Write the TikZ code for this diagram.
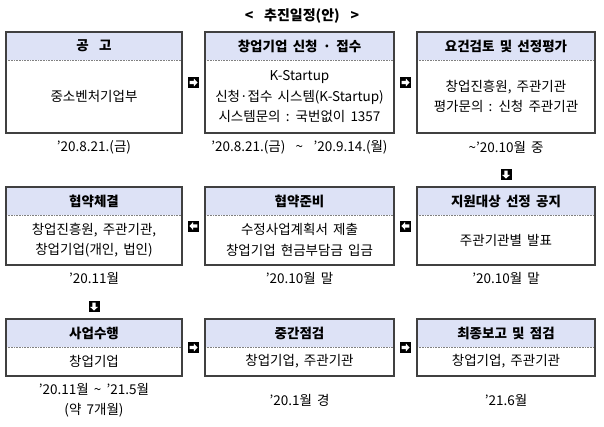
\documentclass[tikz,border=0pt]{standalone}
\usepackage{fontspec}
\setmainfont{Noto Sans CJK KR}[WordSpace=1.7]
\usetikzlibrary{positioning,fit,calc}

\definecolor{headblue}{RGB}{221,226,246}
\definecolor{framegray}{RGB}{64,64,64}

\tikzset{
  head/.style={fill=headblue, minimum width=#1, minimum height=28pt, inner sep=0pt, outer sep=0pt,
    font=\fontsize{13.5}{16}\selectfont\bfseries},
  body/.style={minimum width=#1, inner sep=0pt, outer sep=0pt, align=center},
  frame/.style={draw=framegray, line width=1.2pt, inner sep=0pt, outer sep=0pt},
  divider/.style={gray, dash pattern=on 0.8pt off 0.8pt, line width=0.7pt},
  when/.style={align=center},
  nextbox/.pic={
    \fill[black] (-5.5pt,-5.5pt) rectangle (5.5pt,5.5pt);
    \fill[white] (-3.9pt,-1.7pt) -- (0.4pt,-1.7pt) -- (0.4pt,-3.9pt) -- (4.1pt,0pt)
      -- (0.4pt,3.9pt) -- (0.4pt,1.7pt) -- (-3.9pt,1.7pt) -- cycle;},
}

\begin{document}
\begin{tikzpicture}[font=\fontsize{13.5}{20.5}\selectfont]
  \useasboundingbox (0pt,0pt) rectangle (604pt,-426pt);
  \node[font=\fontsize{14}{16}\selectfont\bfseries] (title) at (302pt,-16pt) {<\ \ 추진일정(안)\ \ >};

  % first row
  \node[head=176pt, anchor=north west] (notice-h) at (6pt,-32pt) {공\ \ 고};
  \node[head=189pt, right=23pt of notice-h] (apply-h) {창업기업 신청 · 접수};
  \node[head=178pt, right=23pt of apply-h] (review-h) {요건검토 및 선정평가};
  \node[body=176pt, minimum height=73pt, below=0pt of notice-h] (notice-b) {중소벤처기업부};
  \node[body=189pt, minimum height=73pt, below=0pt of apply-h] (apply-b)
    {K-Startup\\신청·접수 시스템(K-Startup)\\시스템문의 : 국번없이 1357};
  \node[body=178pt, minimum height=73pt, below=0pt of review-h] (review-b)
    {창업진흥원, 주관기관\\평가문의 : 신청 주관기관};

  % second row
  \node[head=176pt, below=54pt of notice-b] (contract-h) {협약체결};
  \node[head=189pt, right=23pt of contract-h] (prepare-h) {협약준비};
  \node[head=178pt, right=23pt of prepare-h] (announce-h) {지원대상 선정 공지};
  \node[body=176pt, minimum height=50pt, below=0pt of contract-h] (contract-b)
    {창업진흥원, 주관기관,\\창업기업(개인, 법인)};
  \node[body=189pt, minimum height=50pt, below=0pt of prepare-h] (prepare-b)
    {수정사업계획서 제출\\창업기업 현금부담금 입금};
  \node[body=178pt, minimum height=50pt, below=0pt of announce-h] (announce-b) {주관기관별 발표};

  % third row
  \node[head=176pt, below=54pt of contract-b] (perform-h) {사업수행};
  \node[head=189pt, right=23pt of perform-h] (midcheck-h) {중간점검};
  \node[head=178pt, right=23pt of midcheck-h] (final-h) {최종보고 및 점검};
  \node[body=176pt, minimum height=29pt, below=0pt of perform-h] (perform-b) {창업기업};
  \node[body=189pt, minimum height=29pt, below=0pt of midcheck-h] (midcheck-b) {창업기업, 주관기관};
  \node[body=178pt, minimum height=29pt, below=0pt of final-h] (final-b) {창업기업, 주관기관};

  \foreach \stage in {notice,apply,review,contract,prepare,announce,perform,midcheck,final} {
    \draw[divider] (\stage-b.north west) -- (\stage-b.north east);
    \node[frame, fit=(\stage-h)(\stage-b)] (\stage) {};
  }

  % dates
  \node[when] (notice-d) at ([yshift=-14pt]notice.south) {’20.8.21.(금)};
  \node[when] (apply-d) at ([yshift=-14pt]apply.south) {’20.8.21.(금)\ \ \textasciitilde\ \ ’20.9.14.(월)};
  \node[when] (review-d) at ([yshift=-14pt]review.south) {\textasciitilde’20.10월 중};
  \node[when] (contract-d) at ([yshift=-13pt]contract.south) {’20.11월};
  \node[when] (prepare-d) at ([yshift=-13pt]prepare.south) {’20.10월 말};
  \node[when] (announce-d) at ([yshift=-13pt]announce.south) {’20.10월 말};
  \node[when] (perform-d) at ([yshift=-24pt]perform.south) {’20.11월 \textasciitilde\ ’21.5월\\(약 7개월)};
  \node[when] (midcheck-d) at ([yshift=-24pt]midcheck.south) {’20.1월 경};
  \node[when] (final-d) at ([yshift=-24pt]final.south) {’21.6월};

  % arrows
  \pic at ($(notice.east)!0.5!(apply.west)$) {nextbox};
  \pic at ($(apply.east)!0.5!(review.west)$) {nextbox};
  \pic[rotate=-90] at ([yshift=12.5pt]announce-h.north) {nextbox};
  \pic[rotate=180] at ($(prepare.east)!0.5!(announce.west)$) {nextbox};
  \pic[rotate=180] at ($(contract.east)!0.5!(prepare.west)$) {nextbox};
  \pic[rotate=-90] at ([yshift=12.5pt]perform-h.north) {nextbox};
  \pic at ($(perform.east)!0.5!(midcheck.west)$) {nextbox};
  \pic at ($(midcheck.east)!0.5!(final.west)$) {nextbox};
\end{tikzpicture}
\end{document}
